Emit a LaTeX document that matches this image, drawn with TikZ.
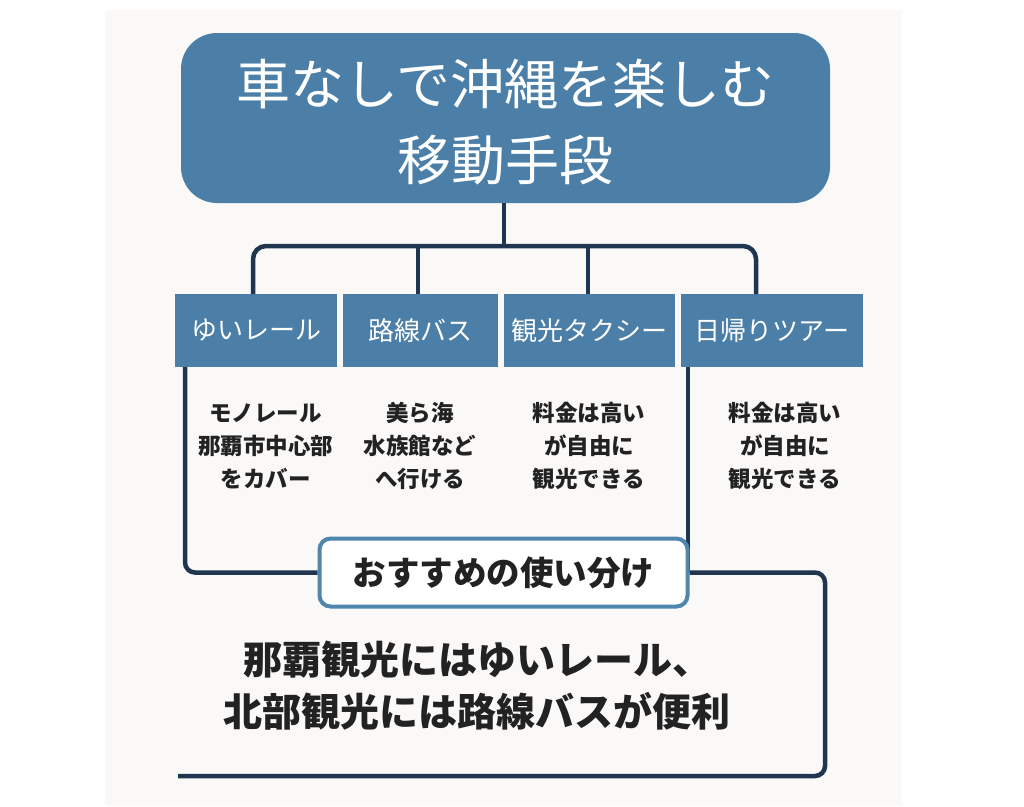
\documentclass[tikz,border=0pt]{standalone}
\usepackage{fontspec}
\usetikzlibrary{backgrounds}
\setmainfont{Noto Sans CJK JP}
\definecolor{panel}{HTML}{FAF9F7}
\definecolor{boxblue}{HTML}{4B7FA8}
\definecolor{recblue}{HTML}{4F86AE}
\definecolor{navy}{HTML}{1F3550}
\definecolor{ink}{HTML}{222222}
\tikzset{
  conn/.style={draw=navy, line width=4.5pt},
  titlebox/.style={fill=boxblue, rounded corners=36pt, inner sep=0pt,
    minimum width=649pt, minimum height=170pt},
  titletxt/.style={text=white, align=center, inner sep=0pt, font=\fontsize{54}{76}\selectfont},
  modebox/.style={fill=boxblue, text=white, inner sep=0pt, minimum height=73pt,
    font=\fontsize{26}{30}\selectfont},
  desc/.style={text=ink, align=center, inner sep=0pt, font=\bfseries\fontsize{22.5}{33}\selectfont},
  recbox/.style={draw=recblue, fill=white, line width=4pt, rounded corners=11pt, inner sep=0pt,
    minimum width=368pt, minimum height=68pt, text=ink, font=\bfseries\fontsize{33.5}{36}\selectfont},
  summary/.style={text=ink, align=center, inner sep=0pt, font=\bfseries\fontsize{39}{52}\selectfont}
}
\begin{document}
\begin{tikzpicture}[x=1pt,y=-1pt]
\useasboundingbox (0,0) rectangle (1024,806);
\begin{scope}[on background layer]
\fill[white] (0,0) rectangle (1024,806);
\fill[panel] (105,10) rectangle (902,806);
\end{scope}

% title
\node[titlebox] (title) at (505.5,118) {};
\node[titletxt] (titletext) at (505.5,122.5) {車なしで沖縄を楽しむ\\移動手段};

% mode boxes
\node[modebox, minimum width=162pt] (b1) at (256,330.5) {ゆいレール};
\node[modebox, minimum width=155pt] (b2) at (420.5,330.5) {路線バス};
\node[modebox, minimum width=171pt] (b3) at (589.5,330.5) {観光タクシー};
\node[modebox, minimum width=182pt] (b4) at (772,330.5) {日帰りツアー};

% tree connectors
\coordinate (bar) at (504,246);
\coordinate (br1) at (253,294);
\coordinate (br2) at (418,294);
\coordinate (br3) at (588,294);
\coordinate (br4) at (756,294);
\draw[conn] (bar |- title.south) -- (bar);
\draw[conn, rounded corners=13pt] (br1) |- (bar) -| (br4);
\draw[conn] (br2) -- (br2 |- bar);
\draw[conn] (br3) -- (br3 |- bar);

% descriptions
\node[desc] (d1) at (265.5,446) {モノレール\\那覇市中心部\\をカバー};
\node[desc] (d2) at (420,446) {美ら海\\水族館など\\へ行ける};
\node[desc] (d3) at (589,446) {料金は高い\\が自由に\\観光できる};
\node[desc] (d4) at (785,446) {料金は高い\\が自由に\\観光できる};

% recommendation
\node[recbox] (rec) at (503.5,572.5) {おすすめの使い分け};
\coordinate (l1) at (185,367);
\coordinate (r1) at (688,367);
\coordinate (cr) at (825,776);
\coordinate (bend) at (178,776);
\begin{scope}[on background layer]
\draw[conn, rounded corners=10pt] (l1) |- (rec.west);
\draw[conn] (r1) -- (r1 |- rec.center);
\draw[conn, rounded corners=10pt] (rec.east) -| (cr) -- (bend);
\end{scope}

% summary
\node[summary] (sum) at (477,686) {那覇観光にはゆいレール、\\北部観光には路線バスが便利};
\end{tikzpicture}
\end{document}
